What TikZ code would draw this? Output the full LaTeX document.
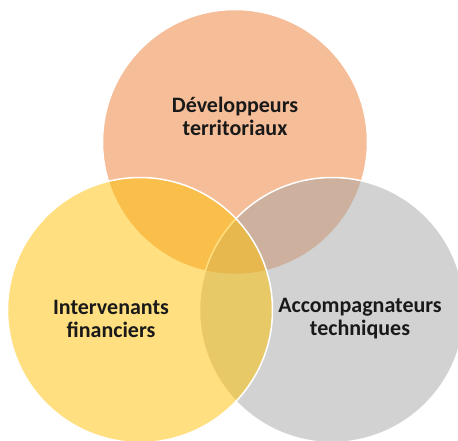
\documentclass[tikz,border=0pt]{standalone}
\usepackage{fontspec}
\setmainfont{Carlito}
\definecolor{vorange}{HTML}{ED7D31}
\definecolor{vgold}{HTML}{FFC000}
\definecolor{vgray}{HTML}{A5A5A5}
\begin{document}
\begin{tikzpicture}[x=1pt,y=-1pt,
  venn/.style={circle, minimum size=265pt, inner sep=0pt, fill opacity=0.5, draw=white, line width=1.5pt},
  lbl/.style={align=center, font=\bfseries\fontsize{22}{23}\selectfont, text=black!90}]
\useasboundingbox (0,0) rectangle (458,441);
\begin{scope}
\clip (0,0) rectangle (458,441);
\node[venn, fill=vorange] (dev) at (235,142) {};
\node[venn, fill=vgray] (tech) at (332,310) {};
\node[venn, fill=vgold] (fin) at (140,310) {};
\end{scope}
\node[lbl] (tdev) at (235,116) {Développeurs\\territoriaux};
\node[lbl] (tfin) at (111,319) {Intervenants\\financiers};
\node[lbl] (ttech) at (360,319) {Accompagnateurs\\techniques};
\end{tikzpicture}
\end{document}
